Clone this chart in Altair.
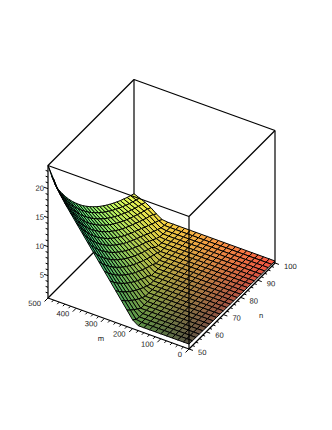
import altair as alt
import pandas as pd

M_VALUES = list(range(0, 501, 20))
N_VALUES = list(range(50, 101, 2))
Z_LOW, Z_HIGH = 1.15, 24.0

# one row per n (50..100), values along m (0..500)
Z_ROWS = [
    [2.0]*10 + [2.66,3.98,5.3,6.62,7.94,9.26,10.58,11.9,13.22,14.54,15.86,17.18,18.5,20.0,22.0,24.0],
    [1.98]*10 + [2.15,3.4,4.65,5.89,7.14,8.39,9.64,10.88,12.13,13.38,14.63,15.87,17.12,18.37,19.8,21.7],
    [1.96]*11 + [2.87,4.05,5.24,6.42,7.6,8.78,9.96,11.14,12.32,13.5,14.69,15.87,17.05,18.23,19.6],
    [1.94]*11 + [2.4,3.52,4.64,5.76,6.88,8.0,9.12,10.24,11.36,12.48,13.6,14.72,15.84,16.96,18.1],
    [1.92]*12 + [3.04,4.1,5.16,6.23,7.29,8.35,9.41,10.47,11.54,12.6,13.66,14.72,15.78,16.85],
    [1.9]*12 + [2.6,3.61,4.62,5.63,6.64,7.64,8.65,9.66,10.67,11.68,12.68,13.69,14.7,15.71],
    [1.88]*12 + [2.21,3.17,4.12,5.08,6.04,6.99,7.95,8.91,9.86,10.82,11.78,12.73,13.69,14.65],
    [1.86]*13 + [2.76,3.67,4.58,5.49,6.4,7.31,8.22,9.13,10.04,10.95,11.86,12.77,13.68],
    [1.84]*13 + [2.4,3.26,4.13,5.0,5.86,6.73,7.59,8.46,9.33,10.19,11.06,11.92,12.79],
    [1.82]*13 + [2.07,2.89,3.71,4.54,5.36,6.19,7.01,7.83,8.66,9.48,10.31,11.13,11.95],
    [1.8]*14 + [2.55,3.33,4.12,4.9,5.68,6.47,7.25,8.04,8.82,9.6,10.39,11.17],
    [1.78]*14 + [2.24,2.99,3.73,4.48,5.23,5.98,6.72,7.47,8.22,8.97,9.71,10.46],
    [1.76]*15 + [2.67,3.38,4.09,4.81,5.52,6.23,6.94,7.65,8.37,9.08,9.79],
    [1.74]*15 + [2.38,3.06,3.74,4.42,5.1,5.78,6.45,7.13,7.81,8.49,9.17],
    [1.72]*15 + [2.12,2.76,3.41,4.06,4.7,5.35,6.0,6.65,7.29,7.94,8.59],
    [1.7]*16 + [2.49,3.11,3.73,4.35,4.96,5.58,6.2,6.81,7.43,8.05],
    [1.68]*16 + [2.25,2.84,3.42,4.01,4.6,5.19,5.78,6.37,6.96,7.55],
    [1.66]*16 + [2.02,2.58,3.14,3.71,4.27,4.83,5.39,5.95,6.51,7.07],
    [1.64]*17 + [2.0,2.7,3.35,3.96,4.5,5.03,5.57,6.11,6.64],
    [1.62]*17 + [1.75,2.35,3.0,3.62,4.19,4.7,5.21,5.72,6.23],
    [1.6]*18 + [2.0,2.65,3.25,3.85,4.39,4.87,5.36,5.85],
    [1.58]*18 + [1.7,2.3,2.95,3.55,4.1,4.56,5.02,5.49],
    [1.56]*18 + [1.6,2.0,2.6,3.25,3.8,4.27,4.71,5.16],
    [1.54]*19 + [1.7,2.3,3.0,3.55,4.01,4.43,4.85],
    [1.52]*19 + [1.55,2.0,2.7,3.3,3.76,4.16,4.56],
    [1.5]*20 + [1.6,2.2,2.95,3.5,3.9,4.3],
]

Z_LABELS = [5, 10, 15, 20]
M_LABELS = [0, 100, 200, 300, 400, 500]
N_LABELS = [50, 60, 70, 80, 90, 100]


def proj(m, n, z):
    return (189 - 0.282 * m + 1.72 * (n - 50),
            349 - 0.102 * m - 1.72 * (n - 50) - 5.8 * (z - Z_LOW))


def colour(m, n, z):
    r = 90 + 160 * (n - 50) / 50 - 3 * (z - 2)
    g = 85 + 165 * m / 500
    b = 70 + 6 * (z - 2)
    return "#%02x%02x%02x" % (int(max(r, 0)), int(g), int(min(b, 255)))


# surface cells, back to front
cells = []
cid = 0
for i in range(len(M_VALUES) - 2, -1, -1):
    for j in range(len(N_VALUES) - 2, -1, -1):
        corners = [(i, j), (i + 1, j), (i + 1, j + 1), (i, j + 1)]
        zs = [Z_ROWS[b][a] for a, b in corners]
        mm = (M_VALUES[i] + M_VALUES[i + 1]) / 2
        nn = (N_VALUES[j] + N_VALUES[j + 1]) / 2
        c = colour(mm, nn, sum(zs) / 4)
        for k, (a, b) in enumerate(corners):
            x, y = proj(M_VALUES[a], N_VALUES[b], Z_ROWS[b][a])
            cells.append({"cell": cid, "k": k, "x": x, "y": y, "c": c})
        cid += 1


def seg(p, q, w=1.0):
    a = proj(*p)
    b = proj(*q)
    return {"x": a[0], "y": a[1], "x2": b[0], "y2": b[1], "w": w}


M0, M1, N0, N1 = 0, 500, 50, 100
back = [
    seg((M1, N0, Z_HIGH), (M1, N1, Z_HIGH)),
    seg((M1, N1, Z_HIGH), (M0, N1, Z_HIGH)),
    seg((M1, N1, Z_LOW), (M1, N1, Z_HIGH)),
    seg((M1, N0, Z_LOW), (M1, N1, Z_LOW)),
    seg((M1, N1, Z_LOW), (M0, N1, Z_LOW)),
]
front = [
    seg((M1, N0, Z_HIGH), (M0, N0, Z_HIGH)),
    seg((M0, N0, Z_HIGH), (M0, N1, Z_HIGH)),
    seg((M0, N0, Z_LOW), (M0, N0, Z_HIGH)),
    seg((M1, N0, Z_LOW), (M1, N0, Z_HIGH)),
    seg((M0, N1, Z_LOW), (M0, N1, Z_HIGH)),
    seg((M1, N0, Z_LOW), (M0, N0, Z_LOW)),
    seg((M0, N0, Z_LOW), (M0, N1, Z_LOW)),
]

# ticks: each points away from the box along a box direction
ticks = []
for m in range(0, 501, 20):
    f = 1.0 if m % 100 == 0 else 0.6
    ticks.append(seg((m, N0, Z_LOW), (m, N0 - 2 * f, Z_LOW)))
for n in range(50, 101, 2):
    f = 1.0 if n % 10 == 0 else 0.6
    ticks.append(seg((M0, n, Z_LOW), (-14 * f, n, Z_LOW)))
for z in range(2, 24):
    f = 1.0 if z % 5 == 0 else 0.6
    ticks.append(seg((M1, N0, z), (M1 + 14 * f, N0, z)))

labels = []
for m in M_LABELS:
    x, y = proj(m, N0, Z_LOW)
    labels.append({"x": x - 7, "y": y + 6, "t": str(m), "a": "right"})
for n in N_LABELS:
    x, y = proj(M0, n, Z_LOW)
    labels.append({"x": x + 9, "y": y + 4, "t": str(n), "a": "left"})
for z in Z_LABELS:
    x, y = proj(M1, N0, z)
    labels.append({"x": x - 4, "y": y, "t": str(z), "a": "right"})
x, y = proj(250, N0, Z_LOW)
labels.append({"x": x - 17.5, "y": y + 15.5, "t": "m", "a": "center"})
x, y = proj(M0, 75, Z_LOW)
labels.append({"x": x + 29, "y": y + 10, "t": "n", "a": "center"})

XS = alt.Scale(domain=[8, 324], nice=False, zero=False)
YS = alt.Scale(domain=[422, 8], nice=False, zero=False)


def rules(rows, width):
    return alt.Chart(pd.DataFrame(rows)).mark_rule(color="#000000", strokeWidth=width).encode(
        x=alt.X("x:Q", scale=XS, axis=None),
        y=alt.Y("y:Q", scale=YS, axis=None),
        x2="x2:Q",
        y2="y2:Q",
    )


surface = alt.Chart(pd.DataFrame(cells)).mark_line(
    interpolate="linear-closed", stroke="#000000", strokeWidth=1.0
).encode(
    x=alt.X("x:Q", scale=XS, axis=None),
    y=alt.Y("y:Q", scale=YS, axis=None),
    detail="cell:N",
    order="k:Q",
    fill=alt.Fill("c:N", scale=None),
)


def texts(rows, align):
    return alt.Chart(pd.DataFrame(rows)).mark_text(
        font="Liberation Sans", fontSize=7.6, color="#222222", angle=0.2,
        align=align, baseline="middle"
    ).encode(
        x=alt.X("x:Q", scale=XS, axis=None),
        y=alt.Y("y:Q", scale=YS, axis=None),
        text="t:N",
    )


text_layers = [texts([r for r in labels if r["a"] == a], a) for a in ("left", "right", "center")]

chart = alt.layer(rules(back, 1.2), surface, rules(front, 1.2), rules(ticks, 1.0), *text_layers).properties(
    width=316, height=414, padding=0, autosize="none", background="white"
).configure_view(stroke=None)

chart.save("out.html", embed_options={"renderer": "svg", "actions": False})
